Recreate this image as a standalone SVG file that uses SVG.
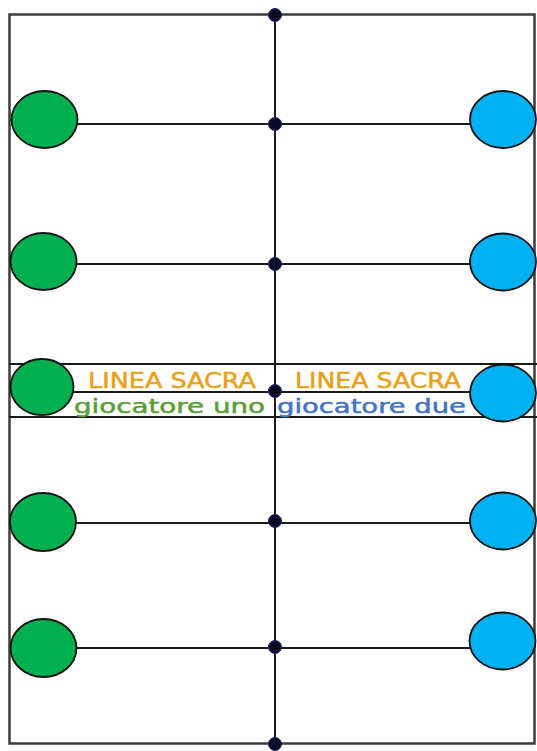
<svg xmlns="http://www.w3.org/2000/svg" width="537" height="751" viewBox="0 0 537 751">
<style>
.ln{stroke:#1a1a1a;stroke-width:2;fill:none}
.frame{stroke:#3c3c3c;stroke-width:2.5;fill:none}
.g{fill:#00B050;stroke:#111;stroke-width:1.8}
.b{fill:#00B0F0;stroke:#111;stroke-width:1.8}
.dot{fill:#0a0a26;stroke:#1a2a6a;stroke-width:1}
.sacra{font-family:"DejaVu Sans","Liberation Sans",sans-serif;font-size:21px;fill:#E8A21A;stroke:#E8A21A;stroke-width:0.5}
.gio{font-family:"DejaVu Sans","Liberation Sans",sans-serif;font-size:20px;stroke-width:0.5}
</style>
<rect id="background" x="0" y="0" width="537" height="751" fill="#ffffff"/>
<g id="connectors">
<rect class="frame" x="9.5" y="14.5" width="525" height="729"/>
<line class="ln" x1="275" y1="14" x2="275" y2="744"/>
<line class="ln" x1="9" y1="364" x2="537" y2="364"/>
<line class="ln" x1="9" y1="417" x2="537" y2="417"/>
<line class="ln" x1="75" y1="124" x2="470" y2="124"/>
<line class="ln" x1="75" y1="264" x2="470" y2="264"/>
<line class="ln" x1="72" y1="392" x2="470" y2="392"/>
<line class="ln" x1="75" y1="523" x2="470" y2="523"/>
<line class="ln" x1="75" y1="648" x2="470" y2="648"/>
</g>
<g id="dots">
<circle class="dot" cx="275" cy="15" r="6.5"/>
<circle class="dot" cx="275" cy="124" r="6.5"/>
<circle class="dot" cx="275" cy="264" r="6.5"/>
<circle class="dot" cx="275" cy="391" r="6.5"/>
<circle class="dot" cx="275" cy="521" r="6.5"/>
<circle class="dot" cx="275" cy="647" r="6.5"/>
<circle class="dot" cx="275" cy="744" r="6.5"/>
</g>
<g id="green-1"><ellipse class="g" cx="44.5" cy="119.5" rx="33" ry="28.5"/></g>
<g id="green-2"><ellipse class="g" cx="43.5" cy="261.5" rx="33" ry="28.5"/></g>
<g id="green-3"><ellipse class="g" cx="42" cy="387" rx="31.5" ry="28"/></g>
<g id="green-4"><ellipse class="g" cx="43" cy="522" rx="33" ry="29"/></g>
<g id="green-5"><ellipse class="g" cx="43.5" cy="648" rx="33" ry="29"/></g>
<g id="blue-1"><ellipse class="b" cx="503" cy="119.5" rx="33" ry="28.5"/></g>
<g id="blue-2"><ellipse class="b" cx="503" cy="262" rx="33" ry="28.5"/></g>
<g id="blue-3"><ellipse class="b" cx="503" cy="393" rx="33" ry="28.5"/></g>
<g id="blue-4"><ellipse class="b" cx="503" cy="521" rx="33" ry="28.5"/></g>
<g id="blue-5"><ellipse class="b" cx="502.5" cy="641" rx="33" ry="28.5"/></g>
<g id="labels">
<text class="sacra" x="88" y="388" textLength="168" lengthAdjust="spacingAndGlyphs">LINEA SACRA</text>
<text class="sacra" x="295" y="388" textLength="166" lengthAdjust="spacingAndGlyphs">LINEA SACRA</text>
<text class="gio" x="74" y="413" fill="#5A9E3A" stroke="#5A9E3A" textLength="191" lengthAdjust="spacingAndGlyphs">giocatore uno</text>
<text class="gio" x="277" y="413" fill="#4472C4" stroke="#4472C4" textLength="189" lengthAdjust="spacingAndGlyphs">giocatore due</text>
</g>
</svg>
